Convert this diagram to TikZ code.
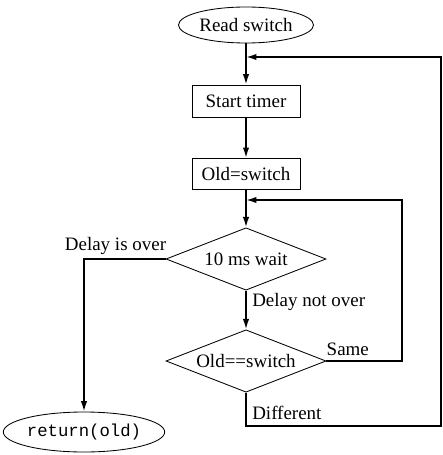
\documentclass[tikz,border=0pt]{standalone}
\usepackage{fontspec}
\setmainfont{Liberation Serif}
\setmonofont{Liberation Mono}
\usepackage{tikz}
\usetikzlibrary{positioning, arrows.meta, shapes.geometric}

\begin{document}
\begin{tikzpicture}[
    term/.style={draw, ellipse, line width=0.6pt, inner sep=0pt, font=\fontsize{13.5}{16}\selectfont},
    proc/.style={draw, line width=0.6pt, minimum width=2.7cm, minimum height=0.8cm, inner sep=0pt, font=\fontsize{13.5}{16}\selectfont},
    test/.style={draw, diamond, aspect=2.6, line width=0.6pt, minimum width=4cm, minimum height=1.56cm, inner sep=0pt, font=\fontsize{13.5}{16}\selectfont},
    lbl/.style={inner sep=0pt, font=\fontsize{13.5}{16}\selectfont},
    flow/.style={line width=1.2pt, -{Latex[length=2.6mm, width=1.6mm]}},
    wire/.style={line width=1.2pt}
]
\useasboundingbox (0,0) rectangle (11.05,-11.375);

\node[term, minimum width=3.375cm, minimum height=0.9cm] (read) at (6.15, -0.625) {Read switch};
\node[proc] (timer) at (6.15, -2.525) {Start timer};
\node[proc, minimum height=0.78cm] (old) at (6.15, -4.35) {Old=switch};
\node[test] (wait) at (6.15, -6.475) {10 ms wait};
\node[test] (same) at (6.15, -9.025) {Old==switch};
\node[term, minimum width=3.4cm, minimum height=1.0cm, font=\fontsize{12.3}{15}\selectfont] (ret) at (2.1, -10.8) {\texttt{return(old)}};

\coordinate (topjoin) at (6.15, -1.425);
\coordinate (midjoin) at (6.15, -5.0);

\draw[flow] (read) -- (timer);
\draw[flow] (timer) -- (old);
\draw[flow] (old) -- (wait);
\draw[flow] (wait) -- (same);
\draw[flow] (wait.west) -| (ret.north);

% loops back
\draw[flow] (same.east) -| (10.05, -5.0) -- (midjoin);
\draw[flow] (same.south) -- ++(0, -0.84) -| (11.02, -1.425) -- (topjoin);

\node[lbl, anchor=south east] (over) at ([shift={(0.02, 0.1)}]wait.west) {Delay is over};
\node[lbl, anchor=north west] (notover) at ([shift={(0.15, -0.05)}]wait.south) {Delay not over};
\node[lbl, anchor=south west] (samelbl) at ([shift={(0.0, 0.12)}]same.east) {Same};
\node[lbl, anchor=west] (difflbl) at ([shift={(0.15, -0.5)}]same.south) {Different};
\end{tikzpicture}
\end{document}
